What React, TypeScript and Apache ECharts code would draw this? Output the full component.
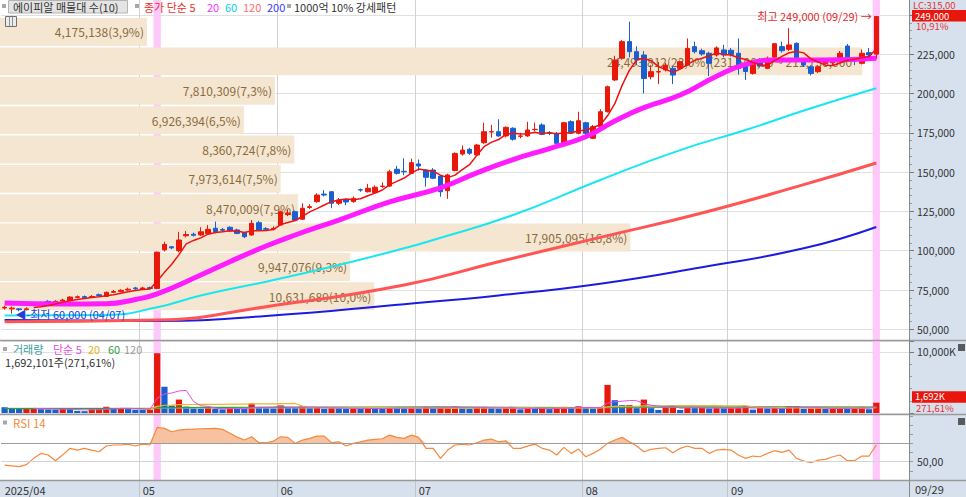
import React, { useEffect, useRef } from "react";
import * as echarts from "echarts";

const FONT = "'Noto Sans CJK KR','Liberation Sans',sans-serif";
const UP = "#e8190b";
const DOWN = "#1a5fd0";

// trading days shown (KRX, 2025)
const monthDays: [number, number[]][] = [
  [4, [4, 7, 8, 9, 10, 11, 14, 15, 16, 17, 18, 21, 22, 23, 24, 25, 28, 29, 30]],
  [5, [2, 7, 8, 9, 12, 13, 14, 15, 16, 19, 20, 21, 22, 23, 26, 27, 28, 29, 30]],
  [6, [2, 4, 5, 9, 10, 11, 12, 13, 16, 17, 18, 19, 20, 23, 24, 25, 26, 27, 30]],
  [7, [1, 2, 3, 4, 7, 8, 9, 10, 11, 14, 15, 16, 17, 18, 21, 22, 23, 24, 25, 28, 29, 30, 31]],
  [8, [1, 4, 5, 6, 7, 8, 11, 12, 13, 14, 18, 19, 20, 21, 22, 25, 26, 27, 28, 29]],
  [9, [1, 2, 3, 4, 5, 8, 9, 10, 11, 12, 15, 16, 17, 18, 19, 22, 23, 24, 25, 26, 29]],
];
const p2 = (n: number) => String(n).padStart(2, "0");
const dates: string[] = monthDays.flatMap(([m, ds]) => ds.map((d) => `2025-${p2(m)}-${p2(d)}`));
const emptySlots = ["·1", "·2", "·3", "·4"];

// [open, close, low, high]
const candles: number[][] = [
  [63500, 64000, 62500, 65000], [63000, 63500, 60000, 64500], [63000, 62500, 61500, 63500], [62500, 63000, 62000, 64000],
  [66800, 66200, 65500, 67500], [66000, 66500, 65500, 67500], [67800, 67300, 66500, 68500], [67300, 67800, 67000, 68500],
  [68000, 68600, 67500, 69500], [68300, 70500, 68000, 71000], [70300, 70700, 69800, 71500], [70800, 70300, 69800, 71500],
  [70500, 70800, 70000, 71800], [72000, 71500, 71000, 72800], [71000, 73500, 70800, 74000], [73500, 74000, 73000, 75000],
  [74000, 74800, 73500, 75500], [75000, 75500, 74500, 76500], [76300, 75800, 75000, 77000], [75500, 76300, 75000, 77000],
  [76500, 76000, 75300, 77200], [76000, 99000, 75500, 99500], [100500, 104000, 99500, 105700], [102500, 101800, 101000, 103000],
  [100000, 106800, 99000, 112000], [109500, 110300, 108500, 112500], [110500, 109800, 109000, 111500], [110000, 112000, 109500, 114900],
  [111000, 113600, 110500, 116300], [114300, 112200, 111000, 118500], [113500, 113000, 112000, 114500], [114900, 112700, 112000, 115500],
  [113200, 111000, 110500, 114000], [111400, 108900, 108000, 112000], [110000, 117400, 109500, 119500], [117800, 113200, 112500, 119000],
  [114000, 113600, 112500, 115000], [113800, 114200, 113000, 115500], [116300, 124800, 116000, 125500], [123000, 124000, 122000, 126000],
  [124800, 119500, 119000, 125500], [120000, 127000, 119500, 130200], [127500, 128000, 126500, 129500], [131200, 135400, 130500, 136500],
  [136000, 135400, 134500, 138500], [137500, 130200, 127000, 138000], [130200, 132200, 129000, 133500], [132500, 131000, 129000, 133000],
  [131200, 133300, 130500, 134500], [138800, 138600, 137500, 139500], [137500, 139700, 137000, 142500], [137000, 140400, 136500, 141500],
  [140800, 141100, 140000, 143500], [141100, 150200, 140500, 151500], [151800, 149200, 148500, 154000], [150500, 150200, 148000, 158800],
  [149200, 156000, 149000, 158500], [155200, 153900, 151000, 158000], [151300, 146700, 140700, 152000], [151300, 146100, 145500, 152500],
  [147500, 137500, 134300, 148000], [138200, 148200, 133000, 149000], [151000, 161900, 150500, 162500], [161500, 164000, 160500, 167000],
  [164500, 162000, 161000, 165500], [160900, 167200, 160500, 168000], [168700, 175700, 168000, 181400], [175500, 175700, 172000, 180000],
  [175700, 173000, 172500, 183600], [173000, 178500, 172000, 179000], [177900, 170900, 170000, 178500], [172800, 173000, 171500, 175000],
  [173000, 176800, 172500, 182000], [177000, 177200, 176000, 181500], [180000, 174000, 173500, 181000], [174900, 174700, 173500, 176000],
  [174700, 168300, 167500, 175500], [167200, 181400, 166500, 182000], [182100, 175100, 174500, 183000], [174700, 182700, 174000, 188400],
  [181400, 174700, 172500, 182000], [171500, 178900, 171000, 180000], [178900, 188400, 178500, 190000], [188400, 204300, 188000, 205000],
  [208600, 221300, 208000, 224000], [222400, 233000, 221500, 234000], [233000, 226600, 223000, 245700], [226600, 221300, 218000, 230000],
  [224500, 209600, 200100, 227000], [210700, 213900, 209000, 218000], [213700, 213900, 206000, 220000], [215000, 218100, 214000, 219500],
  [216000, 211750, 206000, 217500], [216000, 220200, 215000, 221000], [218100, 228700, 217500, 235000], [229800, 226600, 225500, 233000],
  [227200, 225100, 224000, 228500], [225600, 219200, 211000, 226500], [224500, 229000, 223500, 230000], [227700, 224500, 223000, 231000],
  [227500, 224800, 223500, 229000], [225600, 216000, 212000, 235000], [218000, 214000, 208600, 219500], [212800, 219200, 212000, 220500],
  [221300, 217500, 216500, 222500], [216000, 222400, 215500, 223500], [223100, 231700, 222500, 232000], [229800, 227200, 226000, 233000],
  [228100, 230900, 227000, 241500], [231900, 221300, 220500, 232500], [220200, 218100, 217000, 221500], [217000, 212800, 211500, 218000],
  [213900, 217000, 213000, 218000], [219200, 220900, 218500, 222000], [219500, 220500, 218000, 222500], [221300, 225600, 220500, 227000],
  [230200, 221800, 221000, 231500], [221500, 220500, 218000, 222500], [219200, 225600, 218500, 228000], [226000, 224500, 222000, 229000],
  [225000, 249000, 222000, 249000],
];

// daily volume (shares)
const volumes: number[] = [
  950000, 750000, 700000, 720000, 740000, 620000, 580000, 550000, 680000, 660000, 350000, 300000, 620000, 700000, 1020000, 720000,
  760000, 640000, 520000, 500000, 550000, 9800000, 4300000, 1200000, 2200000, 1050000, 750000, 700000, 800000, 720000, 600000, 780000,
  700000, 680000, 1550000, 950000, 800000, 750000, 1250000, 900000, 850000, 1050000, 800000, 950000, 700000, 850000, 800000, 720000,
  750000, 700000, 800000, 750000, 700000, 950000, 850000, 780000, 800000, 750000, 1000000, 800000, 850000, 900000, 1050000, 800000,
  700000, 950000, 1000000, 800000, 750000, 800000, 850000, 600000, 800000, 700000, 750000, 650000, 800000, 1000000, 850000, 1100000,
  800000, 750000, 900000, 4600000, 2100000, 1300000, 1300000, 800000, 2200000, 800000, 500000, 1100000, 1100000, 500000, 950000, 800000,
  850000, 750000, 800000, 780000, 800000, 850000, 1100000, 550000, 800000, 750000, 800000, 700000, 1100000, 1100000, 700000, 750000,
  800000, 700000, 780000, 800000, 750000, 800000, 1000000, 623000, 1692101,
];

const rsi14: number[] = [
  46.4, 45.5, 44.6, 46.8, 53.7, 59, 57.3, 51.1, 57.5, 64.6, 62.7, 64.6, 62.7, 60.9, 67.1, 68.2, 68.2, 69.2, 67.1, 69.2,
  68.2, 87.4, 86.3, 82.6, 84.5, 85.2, 85.5, 85.9, 86.1, 86.3, 85.2, 81, 76.8, 73.6, 77.2, 70.7, 70.7, 72.5, 77.2, 76.5,
  70, 73.6, 75.4, 77.9, 77.9, 70.7, 71.7, 67.1, 70, 71.7, 73.6, 74.3, 75, 79, 76.5, 75.4, 79, 76.5, 64.6, 64.6,
  53.7, 62.7, 68.2, 69.2, 68.2, 70.7, 73.6, 74.7, 71.7, 72.8, 64.6, 64.6, 67, 69.2, 64.6, 62.7, 57.3, 65.6, 59.1, 63.8,
  55.4, 59.1, 63.5, 70, 73.6, 76.5, 71.7, 67.1, 60.9, 63.5, 64.6, 65.2, 59.8, 64.6, 67.1, 64.6, 64.6, 59.1, 62.7, 63.5,
  62.7, 57.3, 53.7, 56.2, 55.4, 59.1, 62, 60.2, 62.7, 53.7, 50.8, 48.9, 51.8, 52.6, 55.4, 57.3, 51.1, 51.1, 56.2, 56.2,
  68.2,
];

// moving averages: [day index, value]
const ma20Pts: [number, number][] = [
  [0, 66700], [8, 66100], [14, 66300], [18, 69000], [21, 72500], [27, 84500], [31, 93000], [36, 103000], [40, 110000],
  [46, 119500], [53, 131000], [60, 140000], [65, 149500], [70, 158000], [75, 165000], [80, 172500], [84, 182500],
  [88, 191000], [93, 199000], [98, 211000], [102, 218500], [106, 221300], [110, 221300], [115, 221500], [120, 222400],
];
const ma60Pts: [number, number][] = [
  [0, 58700], [14, 59100], [21, 64000], [27, 71500], [36, 80300], [45, 89800], [55, 101500], [59, 106800],
  [70, 122700], [82, 145000], [93, 164000], [102, 176800], [111, 190600], [120, 203300],
];
const ma120Pts: [number, number][] = [
  [0, 54800], [21, 55900], [36, 64400], [55, 78200], [68, 93000], [82, 108500], [96, 124000], [110, 142000], [120, 155800],
];
const ma200Pts: [number, number][] = [
  [0, 55900], [21, 55300], [36, 58500], [55, 66000], [68, 71500], [82, 79000], [96, 89500], [110, 101500], [120, 115100],
];
const volMa60Pts: [number, number][] = [
  [0, 720000], [20, 730000], [21, 880000], [40, 950000], [60, 1000000], [81, 880000], [84, 950000], [100, 1000000], [120, 950000],
];
const volMa120Pts: [number, number][] = [[0, 780000], [60, 830000], [120, 950000]];

// volume profile (매물대), top bin first
const profileVolumes = [4175138, 24493812, 7810309, 6926394, 8360724, 7973614, 8470009, 17905095, 9947076, 10631689];
const profilePcts = [3.9, 23.0, 7.3, 6.5, 7.8, 7.5, 7.9, 16.8, 9.3, 10.0];
const maxBinRange = "(231,500,00 ~ 211,750,000";

const strongDays = ["2025-05-08", "2025-09-29"];
const limitLabel = "LC:315,00";

const N = dates.length;
const cats = [...dates, ...emptySlots];
const fmt = (v: number) => v.toLocaleString("en-US");
const dec = (v: number, d: number) => v.toFixed(d).replace(".", ",");
const monthStarts = new Set(
  dates.map((d, i) => (i === 0 || d.slice(5, 7) !== dates[i - 1].slice(5, 7) ? i : -1)).filter((i) => i >= 0)
);
const sparse = (pts: [number, number][]) => {
  const a: (number | null)[] = new Array(N).fill(null);
  pts.forEach(([i, v]) => (a[i] = v));
  return a;
};
const movingAvg = (arr: number[], n: number) =>
  arr.map((_, i) => (i < n - 1 ? null : arr.slice(i - n + 1, i + 1).reduce((s, v) => s + v, 0) / n));

const closes = candles.map((c) => c[1]);
const lastClose = closes[N - 1];
const prevClose = closes[N - 2];
const lastVolume = volumes[N - 1];
const prevVolume = volumes[N - 2];
const hiIdx = candles.reduce((b, c, i) => (c[3] > candles[b][3] ? i : b), 0);
const loIdx = candles.reduce((b, c, i) => (c[2] < candles[b][2] ? i : b), 0);
const mmdd = (d: string) => `${d.slice(5, 7)}/${d.slice(8, 10)}`;

const lineS = (name: string, data: any[], color: string, width: number, xi: number, yi: number, z = 4) => ({
  type: "line",
  name,
  xAxisIndex: xi,
  yAxisIndex: yi,
  data,
  connectNulls: true,
  smooth: true,
  showSymbol: false,
  silent: true,
  z,
  lineStyle: { color, width },
});

function buildOption(): any {
  const gridBase = { left: 1, width: 908, containLabel: false, outerBoundsMode: "none" };
  const hiddenCat = (gridIndex: number) => ({ type: "category", gridIndex, data: cats, boundaryGap: true, show: false });
  const axisFont = { color: "#333", fontSize: 10.5, fontFamily: FONT };
  return {
    animation: false,
    backgroundColor: "#ffffff",
    grid: [
      { ...gridBase, top: 0, height: 480 },
      { ...gridBase, top: 14.9, height: 314.4 },
      { ...gridBase, left: 0, width: 909, top: 17.3, height: 293.7 },
      { ...gridBase, top: 341, height: 72 },
      { ...gridBase, top: 415.8, height: 64.3 },
      { ...gridBase, top: 480, height: 1 },
    ],
    xAxis: [
      {
        type: "category", gridIndex: 0, data: cats, boundaryGap: true,
        axisLine: { show: false }, axisTick: { show: false }, axisLabel: { show: false },
        splitLine: { show: true, interval: (i: number) => i > 0 && monthStarts.has(i), lineStyle: { color: "#d2d2d2", width: 1 } },
      },
      hiddenCat(1),
      { type: "value", gridIndex: 2, min: 0, max: 25820000, show: false },
      hiddenCat(3),
      hiddenCat(4),
      {
        type: "category", gridIndex: 5, data: cats, boundaryGap: true,
        axisLine: { show: false },
        axisTick: { show: true, interval: (i: number) => i > 0 && monthStarts.has(i), length: 16, lineStyle: { color: "#c4c4c4" } },
        axisLabel: {
          interval: (i: number) => monthStarts.has(i),
          formatter: (v: string, i: number) => (i === 0 ? `${v.slice(0, 4)}/${v.slice(5, 7)}` : v.slice(5, 7)),
          align: "left", margin: 3, color: "#333", fontSize: 11, fontFamily: FONT,
        },
        splitLine: { show: false },
      },
    ],
    yAxis: [
      { type: "value", gridIndex: 0, min: 0, max: 1, show: false },
      {
        type: "value", gridIndex: 1, position: "right", min: 50000, max: 250000, interval: 25000,
        axisLine: { show: true, lineStyle: { color: "#8a8a8a" } },
        axisTick: { show: true, length: 5, lineStyle: { color: "#777" } },
        minorTick: { show: true, splitNumber: 5, length: 3, lineStyle: { color: "#999" } },
        axisLabel: { ...axisFont, margin: 8, formatter: (v: number) => (v >= 250000 ? "" : fmt(v)) },
        splitLine: { show: true, lineStyle: { color: "#e0e0e0" } },
      },
      { type: "category", gridIndex: 2, inverse: true, data: profileVolumes.map((_, i) => `bin${i}`), show: false },
      {
        type: "value", gridIndex: 3, position: "right", min: 0, max: 11800000, interval: 10000000,
        axisLine: { show: true, lineStyle: { color: "#8a8a8a" } },
        axisTick: { show: true, length: 5, lineStyle: { color: "#777" } },
        minorTick: { show: true, splitNumber: 5, length: 3, lineStyle: { color: "#999" } },
        axisLabel: { ...axisFont, margin: 8, formatter: (v: number) => (v === 10000000 ? `${fmt(v / 1000)}K` : "") },
        splitLine: { show: true, lineStyle: { color: "#e0e0e0" } },
      },
      {
        type: "value", gridIndex: 4, position: "right", min: 30, max: 100, interval: 10,
        axisLine: { show: true, lineStyle: { color: "#8a8a8a" } },
        axisTick: { show: true, length: 4, lineStyle: { color: "#999" } },
        axisLabel: { ...axisFont, margin: 8, formatter: (v: number) => (v === 50 ? dec(v, 2) : "") },
        splitLine: { show: false },
      },
      { type: "value", gridIndex: 5, show: false },
    ],
    series: [
      {
        type: "bar", name: "strong", xAxisIndex: 0, yAxisIndex: 0,
        data: dates.map((d) => (strongDays.includes(d) ? 1 : null)),
        barWidth: "100%", itemStyle: { color: "#ffc8fb" }, silent: true, z: 1,
      },
      {
        type: "bar", name: "profile", xAxisIndex: 2, yAxisIndex: 2, barCategoryGap: "5%", silent: true, z: 2,
        itemStyle: { color: "#f5e6d2" },
        data: profileVolumes.map((v) => {
          const isMax = v === Math.max(...profileVolumes);
          return {
            value: v,
            label: isMax ? { position: "insideLeft", offset: [604, 0] } : undefined,
          };
        }),
        label: {
          show: true, position: "insideRight", distance: 3, color: "#8a6b3b", fontSize: 12, fontFamily: FONT,
          formatter: (p: any) => {
            const v = profileVolumes[p.dataIndex];
            const base = `${fmt(v)}(${dec(profilePcts[p.dataIndex], 1)}%)`;
            return v === Math.max(...profileVolumes) ? base + maxBinRange : base;
          },
        },
      },
      {
        type: "candlestick", name: "price", xAxisIndex: 1, yAxisIndex: 1, data: candles, barWidth: 5, z: 3, silent: true,
        itemStyle: { color: UP, color0: DOWN, borderColor: UP, borderColor0: DOWN, borderWidth: 1 },
        markPoint: {
          symbol: "circle", symbolSize: 1, silent: true, itemStyle: { color: "rgba(0,0,0,0)" },
          data: [
            {
              coord: [dates[hiIdx], candles[hiIdx][3]],
              label: {
                show: true, position: "left", distance: 4, color: "#e02a2a", fontSize: 11, fontFamily: FONT,
                formatter: `최고 ${fmt(candles[hiIdx][3])} (${mmdd(dates[hiIdx])}) →`,
              },
            },
            {
              coord: [dates[loIdx], candles[loIdx][2]],
              label: {
                show: true, position: "right", distance: 3, color: "#2b3bd8", fontSize: 11, fontFamily: FONT,
                formatter: `◀-최저 ${fmt(candles[loIdx][2])} (${mmdd(dates[loIdx])})`,
              },
            },
          ],
        },
      },
      lineS("MA200", sparse(ma200Pts), "#1c1ce0", 2, 1, 1),
      lineS("MA120", sparse(ma120Pts), "#ff5555", 3, 1, 1),
      lineS("MA60", sparse(ma60Pts), "#18e6f0", 2, 1, 1),
      lineS("MA20", sparse(ma20Pts), "#ff1cff", 5, 1, 1),
      { ...lineS("MA5", movingAvg(closes, 5), "#ee1111", 1.5, 1, 1), smooth: false },
      {
        type: "bar", name: "volume", xAxisIndex: 3, yAxisIndex: 3, barCategoryGap: "14%", silent: true, z: 2,
        data: volumes.map((v, i) => ({ value: v, itemStyle: { color: i === 0 || v < volumes[i - 1] ? DOWN : UP } })),
      },
      lineS("vMA120", sparse(volMa120Pts), "#a8a8a8", 1, 3, 3),
      lineS("vMA60", sparse(volMa60Pts), "#2ea040", 1.2, 3, 3),
      { ...lineS("vMA20", movingAvg(volumes, 20), "#e8b830", 1.2, 3, 3), smooth: false },
      { ...lineS("vMA5", movingAvg(volumes, 5), "#e050e0", 1, 3, 3), smooth: false },
      {
        type: "line", name: "rsiBase", xAxisIndex: 4, yAxisIndex: 4, stack: "rsi", silent: true, showSymbol: false,
        data: rsi14.map(() => 70), lineStyle: { width: 0, opacity: 0 }, z: 2,
      },
      {
        type: "line", name: "rsiOver", xAxisIndex: 4, yAxisIndex: 4, stack: "rsi", silent: true, showSymbol: false,
        data: rsi14.map((v) => Math.max(v, 70) - 70), lineStyle: { width: 0, opacity: 0 },
        areaStyle: { color: "#f6c2a0", opacity: 1 }, z: 2,
      },
      {
        type: "line", name: "RSI", xAxisIndex: 4, yAxisIndex: 4, data: rsi14, silent: true, showSymbol: false, z: 4,
        lineStyle: { color: "#f5893c", width: 1.2 },
        markLine: {
          silent: true, symbol: ["none", "none"], label: { show: false },
          data: [
            { yAxis: 70, lineStyle: { color: "#9c9c9c", width: 1, type: "solid" } },
            { yAxis: 50, lineStyle: { color: "#d4d4d4", width: 1, type: "solid" } },
          ],
        },
      },
    ],
  };
}

function txt(text: string, x: number, y: number, fill: string, extra: any = {}) {
  return {
    type: "text", x, y, z: 60, silent: true,
    style: { text, fill, fontSize: 11, fontFamily: FONT, verticalAlign: "middle", ...extra },
  };
}
function box(x: number, y: number, w: number, h: number, fill: string, stroke?: string, z = 60) {
  return { type: "rect", z, silent: true, shape: { x, y, width: w, height: h }, style: { fill, stroke, lineWidth: 1 } };
}
function hline(y: number, x1: number, x2: number, stroke: string, w = 1) {
  return { type: "line", z: 50, silent: true, shape: { x1, y1: y, x2, y2: y }, style: { stroke, lineWidth: w } };
}

function buildGraphic(py: number, vy: number) {
  const pct = dec((lastClose / prevClose - 1) * 100, 2);
  const vpct = dec((lastVolume / prevVolume) * 100, 2);
  const small = { fontSize: 9.5, lineHeight: 10 };
  return [
    box(909, 0, 57, 497, "#d7e1ee", undefined, -5),
    box(0, 481, 909, 16, "#d7e1ee", undefined, -5),
    hline(340.5, 0, 966, "#9a9a9a", 1.5),
    hline(414.5, 0, 966, "#9a9a9a", 1.5),
    hline(480.5, 0, 966, "#9a9a9a", 1.5),
    { type: "line", z: 50, silent: true, shape: { x1: 909.5, y1: 0, x2: 909.5, y2: 497 }, style: { stroke: "#8a8a8a", lineWidth: 1 } },
    // main header
    box(2, 4, 4, 4, "#a8a8a8"),
    box(8.5, 0.5, 119, 12.5, "#e4e4e4", "#b4b4b4"),
    txt("에이피알 매물대 수(10)", 13, 6.5, "#333"),
    box(135, 4, 4, 4, "#a8a8a8"),
    txt("종가 단순 5", 144, 6.5, "#ee2a2a"),
    txt("20", 207, 6.5, "#ff30ff"),
    txt("60", 225, 6.5, "#00d4e4"),
    txt("120", 243, 6.5, "#ff6a6a"),
    txt("200", 267, 6.5, "#3a3aff"),
    box(287, 4, 4, 4, "#a8a8a8"),
    txt("1000억 10% 강세패턴", 294, 6.5, "#333"),
    box(5.5, 16.5, 11, 10, "#ececec", "#707070"),
    hline(19.5, 6, 16, "#909090"),
    { type: "line", z: 61, silent: true, shape: { x1: 9.5, y1: 17, x2: 9.5, y2: 26 }, style: { stroke: "#909090", lineWidth: 1 } },
    { type: "line", z: 61, silent: true, shape: { x1: 12.5, y1: 17, x2: 12.5, y2: 26 }, style: { stroke: "#909090", lineWidth: 1 } },
    // volume header
    box(3, 347, 4, 4, "#a8a8a8"),
    txt("거래량", 13, 349, "#3aa0a0"),
    txt("단순 5", 53, 349, "#e050e0"),
    txt("20", 88, 349, "#e8b020"),
    txt("60", 108, 349, "#30a040"),
    txt("120", 124, 349, "#999"),
    txt(`${fmt(lastVolume)}주(${vpct}%)`, 5, 361.5, "#333"),
    // rsi header
    box(3, 420.5, 4, 4, "#a8a8a8"),
    txt("RSI 14", 13, 422.5, "#f28b3c", { fontSize: 11.5 }),
    // right axis markers
    txt(limitLabel, 913, 5.2, "#e83030", small),
    box(912, py - 6.5, 54, 11.5, "#e8160c", undefined, 60),
    txt(fmt(lastClose), 915, py - 0.8, "#ffffff", small),
    txt(`${pct}%`, 916, py + 9.9, "#e83030", small),
    box(912, vy - 11.5, 54, 11.5, "#e8160c", undefined, 60),
    txt(`${fmt(Math.round(lastVolume / 1000))}K`, 915, vy - 6.2, "#ffffff", small),
    txt(`${vpct}%`, 916, vy + 5.6, "#e83030", small),
    box(958, 344, 7, 7, "#5a5a5a"),
    box(958, 418, 7, 7, "#5a5a5a"),
    hline(347.5, 959.5, 963.5, "#dddddd"),
    hline(421.5, 959.5, 963.5, "#dddddd"),
    txt(mmdd(dates[N - 1]), 915, 489, "#333"),
  ];
}

export default function App() {
  const ref = useRef<HTMLDivElement>(null);
  useEffect(() => {
    document.body.style.margin = "0";
    document.body.style.overflow = "hidden";
    const chart = echarts.init(ref.current!, null, { renderer: "svg" });
    chart.setOption(buildOption());
    const py = chart.convertToPixel({ yAxisIndex: 1 } as any, lastClose) as unknown as number;
    const vy = chart.convertToPixel({ yAxisIndex: 3 } as any, lastVolume) as unknown as number;
    chart.setOption({ graphic: { elements: buildGraphic(py, vy) } });
    return () => chart.dispose();
  }, []);
  return <div ref={ref} style={{ width: 966, height: 497 }} />;
}
